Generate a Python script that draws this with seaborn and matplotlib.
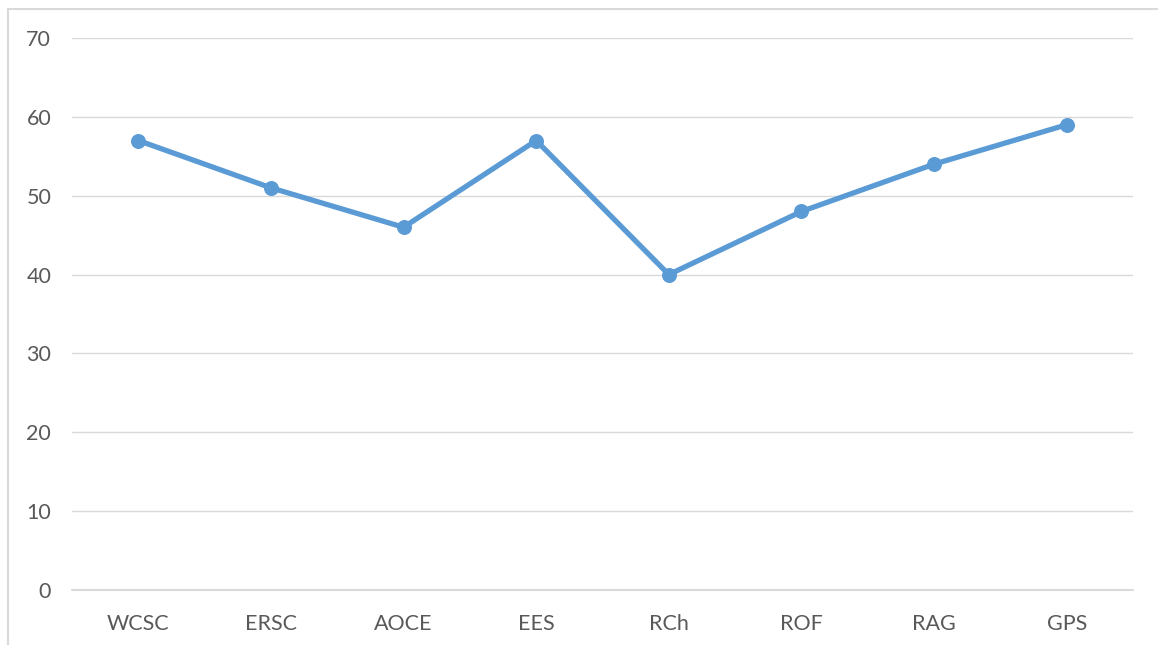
import matplotlib
matplotlib.use("Agg")
import matplotlib.pyplot as plt
import seaborn as sns
import pandas as pd
from matplotlib.patches import Rectangle

# chart data
categories = ["WCSC", "ERSC", "AOCE", "EES", "RCh", "ROF", "RAG", "GPS"]
values = [57, 51, 46, 57, 40, 48, 54, 59]
y_ticks = [0, 10, 20, 30, 40, 50, 60, 70]

df = pd.DataFrame({"category": categories, "value": values})

sns.set_style("white")
plt.rcParams["font.family"] = ["Lato", "DejaVu Sans"]

fig = plt.figure(figsize=(11.58, 6.45), dpi=100)
ax = fig.add_axes([72 / 1158, 55 / 645, (1133 - 72) / 1158, (590 - 38) / 645])

# outer chart frame (partly cropped in the reference)
fig.patches.append(Rectangle((8 / 1158, -0.05), 1.2, (645 - 9) / 645 + 0.05,
                             transform=fig.transFigure, fill=False,
                             edgecolor="#d9d9d9", linewidth=1.5))

sns.lineplot(data=df, x="category", y="value", ax=ax, color="#5B9BD5",
             linewidth=3.8, marker="o", markersize=10,
             markeredgecolor="#5B9BD5", sort=False, zorder=3)

ax.set_ylim(0, 70)
ax.set_xlim(-0.5, len(categories) - 0.5)
ax.set_yticks(y_ticks)
ax.grid(axis="y", color="#d9d9d9", linewidth=1.0)
ax.axhline(0, color="#d9d9d9", linewidth=1.5, clip_on=False, zorder=1)
ax.set_axisbelow(True)
for s in ax.spines.values():
    s.set_visible(False)
ax.tick_params(axis="y", length=0, pad=15, labelsize=15.5, labelcolor="#595959")
ax.tick_params(axis="x", length=0, pad=17, labelsize=15.5, labelcolor="#595959")
ax.set_xlabel("")
ax.set_ylabel("")

fig.savefig("out.png", dpi=100)
